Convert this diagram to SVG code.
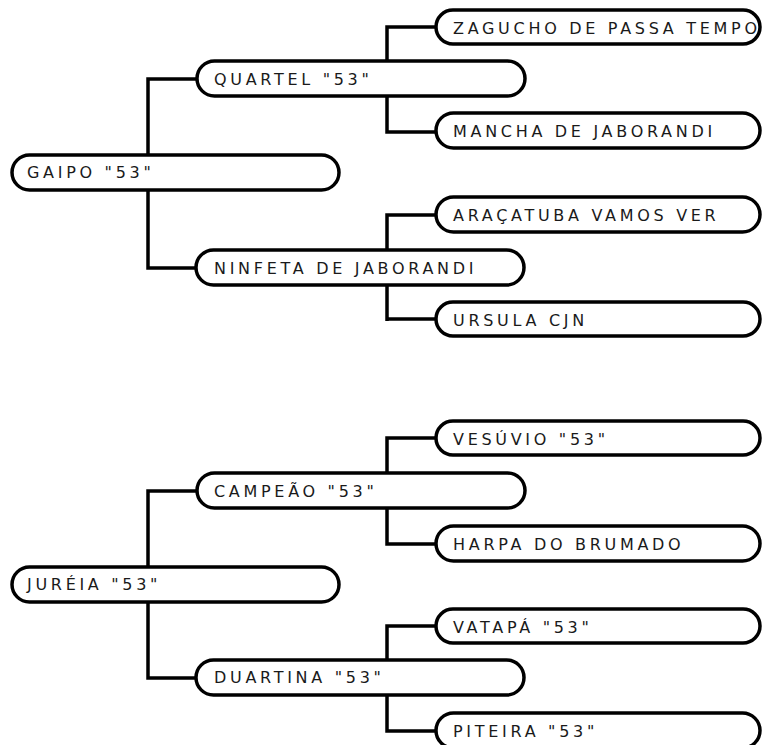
<svg xmlns="http://www.w3.org/2000/svg" width="764" height="745" viewBox="0 0 764 745">
<style>
.box{fill:#fff;stroke:#000;stroke-width:3.5}
.lbl{font-family:"DejaVu Sans",Verdana,sans-serif;font-size:16px;letter-spacing:3.7px;fill:#1a1a1a}
.con{fill:none;stroke:#000;stroke-width:3.5;stroke-linejoin:miter}
</style>
<rect width="764" height="745" fill="#fff"/>
<g id="connectors" class="con">
<path d="M197 79 H148 V155"/>
<path d="M148 190 V268 H196"/>
<path d="M436 27 H387 V132 H436"/>
<path d="M436 215 H387 V321"/>
<path d="M387 319 H436"/>
<path d="M197 491 H148 V567"/>
<path d="M148 602 V678 H196"/>
<path d="M436 438 H387 V544 H436"/>
<path d="M436 626 H387 V731 H436"/>
</g>
<g id="gaipo"><rect class="box" x="12" y="155" width="327" height="35" rx="17.5"/><text class="lbl" x="27" y="178">GAIPO "53"</text></g>
<g id="quartel"><rect class="box" x="197" y="61" width="328" height="35" rx="17.5"/><text class="lbl" x="214" y="85">QUARTEL "53"</text></g>
<g id="ninfeta"><rect class="box" x="196" y="250" width="328" height="35" rx="17.5"/><text class="lbl" x="214" y="274">NINFETA DE JABORANDI</text></g>
<g id="zagucho"><rect class="box" x="436" y="10" width="324" height="34" rx="17"/><text class="lbl" x="453" y="34">ZAGUCHO DE PASSA TEMPO</text></g>
<g id="mancha"><rect class="box" x="436" y="113" width="324" height="35" rx="17.5"/><text class="lbl" x="453" y="137">MANCHA DE JABORANDI</text></g>
<g id="aracatuba"><rect class="box" x="436" y="197" width="324" height="35" rx="17.5"/><text class="lbl" x="453" y="221">ARAÇATUBA VAMOS VER</text></g>
<g id="ursula"><rect class="box" x="436" y="302" width="324" height="34" rx="17"/><text class="lbl" x="453" y="326">URSULA CJN</text></g>
<g id="jureia"><rect class="box" x="12" y="567" width="327" height="35" rx="17.5"/><text class="lbl" x="27" y="590">JURÉIA "53"</text></g>
<g id="campeao"><rect class="box" x="197" y="473" width="328" height="35" rx="17.5"/><text class="lbl" x="214" y="497">CAMPEÃO "53"</text></g>
<g id="duartina"><rect class="box" x="196" y="660" width="328" height="35" rx="17.5"/><text class="lbl" x="214" y="683">DUARTINA "53"</text></g>
<g id="vesuvio"><rect class="box" x="436" y="421" width="324" height="34" rx="17"/><text class="lbl" x="453" y="445">VESÚVIO "53"</text></g>
<g id="harpa"><rect class="box" x="436" y="526" width="324" height="35" rx="17.5"/><text class="lbl" x="453" y="550">HARPA DO BRUMADO</text></g>
<g id="vatapa"><rect class="box" x="436" y="609" width="324" height="34" rx="17"/><text class="lbl" x="453" y="633">VATAPÁ "53"</text></g>
<g id="piteira"><rect class="box" x="436" y="713" width="324" height="35" rx="17.5"/><text class="lbl" x="453" y="737">PITEIRA "53"</text></g>
</svg>
